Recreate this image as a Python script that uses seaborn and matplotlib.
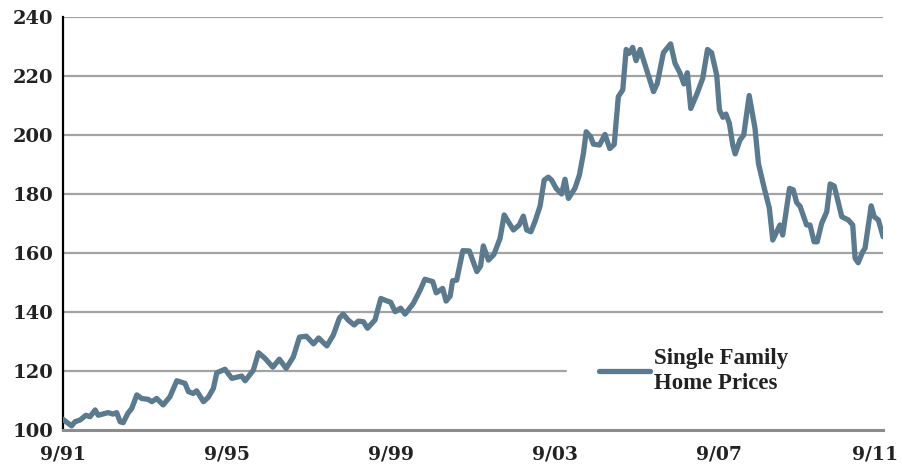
import pandas as pd
import seaborn as sns
import matplotlib.pyplot as plt
import matplotlib.transforms as mtransforms

# months since 9/91 and median price (thousands)
months = [0, 2.5, 3.5, 5.0, 6.7, 7.9, 9.4, 10.3, 13.2, 14.6, 15.7, 16.7, 17.6, 19.0,
          20.1, 21.6, 23.0, 24.9, 26.0, 27.4, 29.3, 31.3, 33.3, 35.7, 36.7, 38.1,
          39.1, 41.1, 42.5, 44.0, 45.0, 47.4, 49.4, 52.3, 53.3, 55.7, 57.2, 59.1,
          61.4, 63.3, 65.3, 67.4, 69.2, 71.2, 73.3, 74.8, 77.2, 79.1, 80.9, 82.0,
          83.5, 85.2, 86.4, 87.9, 89.1, 91.3, 93.0, 94.7, 95.9, 97.2, 98.8, 100.1,
          102.5, 104.5, 105.9, 108.2, 109.2, 111.1, 112.1, 113.3, 114.0, 115.2,
          117.0, 118.9, 121.1, 122.2, 123.0, 124.5, 126.1, 127.9, 129.1, 130.3,
          131.8, 133.5, 134.7, 135.7, 136.9, 138.1, 139.6, 140.8, 142.0, 143.0,
          144.3, 145.9, 146.9, 147.9, 149.8, 151.1, 152.3, 153.1, 154.4, 155.2,
          157.0, 158.6, 160.0, 161.3, 162.5, 163.8, 164.8, 165.7, 166.7, 167.7,
          168.9, 170.8, 172.8, 173.9, 175.7, 177.8, 179.1, 180.6, 181.7, 182.7,
          183.7, 185.5, 187.2, 188.6, 189.8, 191.3, 192.1, 193.1, 194.0, 195.0,
          196.0, 196.7, 198.1, 199.2, 200.8, 202.5, 203.5, 205.1, 206.7, 207.7,
          209.8, 210.6, 212.6, 213.7, 214.7, 215.7, 217.6, 218.6, 219.8, 220.7,
          222.0, 223.5, 224.5, 225.7, 227.9, 229.8, 231.1, 231.8, 232.7, 234.0,
          234.7, 236.5, 237.4, 238.6, 240.0]
prices = [103.6, 101.4, 102.8, 103.4, 105.0, 104.5, 106.8, 105.0, 105.9, 105.4, 105.9,
          102.8, 102.5, 105.7, 107.3, 111.9, 110.7, 110.4, 109.6, 110.7, 108.5, 111.3,
          116.7, 115.8, 113.0, 112.4, 113.3, 109.6, 111.1, 114.1, 119.4, 120.6, 117.5,
          118.3, 116.7, 120.3, 126.2, 124.3, 121.3, 124.0, 120.9, 124.8, 131.5, 131.8,
          129.2, 131.2, 128.5, 132.2, 138.0, 139.3, 137.2, 135.6, 136.9, 136.7, 134.5,
          137.3, 144.6, 143.8, 143.3, 140.1, 141.3, 139.3, 142.9, 147.4, 151.1, 150.3,
          146.5, 148.0, 143.7, 145.4, 150.6, 150.8, 160.8, 160.7, 153.7, 155.6, 162.4,
          157.6, 159.5, 165.0, 172.9, 170.6, 167.8, 169.5, 172.5, 167.8, 167.2, 170.6,
          175.9, 184.7, 185.7, 184.7, 181.9, 180.0, 185.0, 178.5, 181.9, 186.4, 193.8,
          201.1, 199.4, 196.9, 196.6, 200.2, 195.4, 196.8, 213.0, 215.3, 229.0, 227.7,
          229.7, 225.2, 229.0, 222.0, 214.7, 217.5, 227.9, 230.9, 224.3, 220.9, 217.3,
          221.1, 209.0, 213.9, 219.2, 229.0, 227.9, 220.3, 208.5, 206.0, 207.1, 204.0,
          196.6, 193.6, 198.3, 200.0, 213.4, 202.3, 190.4, 182.5, 175.2, 164.4, 169.5,
          166.1, 181.9, 181.4, 177.1, 175.8, 169.5, 169.5, 163.8, 163.8, 170.0, 174.0,
          183.4, 182.7, 172.3, 171.2, 169.5, 158.2, 156.7, 160.4, 161.6, 176.0, 172.3,
          171.2, 165.5]

tick_months = [0, 48, 96, 144, 192, 240]
tick_labels = ["9/91", "9/95", "9/99", "9/03", "9/07", "9/11"]
y_ticks = [100, 120, 140, 160, 180, 200, 220, 240]

df = pd.DataFrame({"month": months, "price": prices})

sns.set_style("white")
plt.rcParams["font.family"] = ["DejaVu Serif"]

fig = plt.figure(figsize=(9.03, 4.67), dpi=100)
ax = fig.add_axes([0.0698, 0.0792, 0.9082, 0.8844])

for y in y_ticks[1:]:
    ax.axhline(y, color="#a3a3a3", lw=1.6, zorder=1)

sns.lineplot(data=df, x="month", y="price", ax=ax, color="#5a7a8f", lw=3.8,
             label="Single Family\nHome Prices", zorder=3)

ax.set_xlim(0, 240)
ax.set_ylim(100, 240)
ax.set_xticks(tick_months)
ax.set_xticklabels(tick_labels)
ax.set_yticks(y_ticks)
ax.set_xlabel("")
ax.set_ylabel("")
ax.tick_params(axis="x", labelsize=13.5, pad=11, length=0)
ax.tick_params(axis="y", labelsize=14, pad=7, length=0)
for lab in ax.get_xticklabels() + ax.get_yticklabels():
    lab.set_fontweight("bold")
    lab.set_color("#222222")

# nudge the last date label so it stays inside the figure
last = ax.get_xticklabels()[-1]
last.set_transform(last.get_transform() +
                   mtransforms.ScaledTranslation(-6 / 72, 0, fig.dpi_scale_trans))

for s in ["top", "right"]:
    ax.spines[s].set_visible(False)
ax.spines["left"].set_color("black")
ax.spines["left"].set_linewidth(1.6)
ax.spines["bottom"].set_color("#8c8c8c")
ax.spines["bottom"].set_linewidth(2.2)

leg = ax.legend(loc="center left", bbox_to_anchor=(0.6146, 0.093, 0.3854, 0.1),
                mode="expand", frameon=True, fancybox=False, handlelength=2.2,
                handletextpad=0.2, borderpad=1.4, borderaxespad=0,
                labelspacing=0.2,
                prop={"family": "Liberation Serif", "size": 16.5, "weight": "bold"})
leg.get_frame().set_facecolor("white")
leg.get_frame().set_edgecolor("white")
leg.get_frame().set_alpha(1)
for t in leg.get_texts():
    t.set_color("#222222")

fig.savefig("out.png", dpi=100)
